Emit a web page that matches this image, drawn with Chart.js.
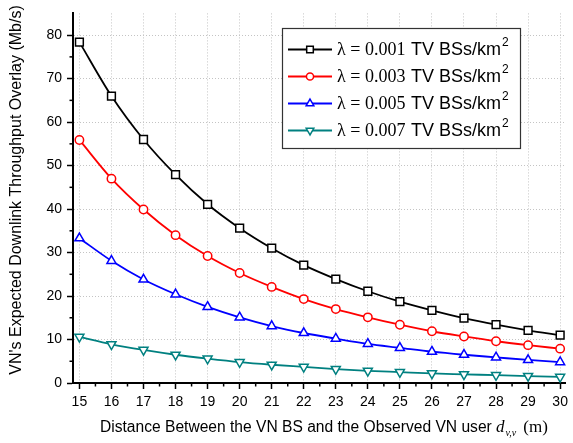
<!DOCTYPE html>
<html><head><meta charset="utf-8">
<script src="https://cdn.jsdelivr.net/npm/chart.js@4.4.1/dist/chart.umd.min.js"></script>
<style>html,body{margin:0;padding:0;background:#fff}#wrap{position:relative;width:573px;height:443px}</style>
</head><body><div id="wrap"><canvas id="c" width="573" height="443"></canvas></div>
<script>
// ---- data ----
const distances = [15,16,17,18,19,20,21,22,23,24,25,26,27,28,29,30];
const lambdaLabels = ['0.001','0.003','0.005','0.007'];
const series001 = [78.4,66.0,56.0,47.9,41.1,35.6,31.0,27.1,23.9,21.1,18.7,16.7,14.9,13.4,12.1,11.0];
const series003 = [55.9,47.0,39.9,34.0,29.2,25.3,22.1,19.3,17.0,15.1,13.4,11.9,10.7,9.6,8.7,7.9];
const series005 = [33.3,28.1,23.8,20.4,17.5,15.1,13.1,11.5,10.2,9.0,8.1,7.2,6.5,5.9,5.3,4.8];
const series007 = [10.6,8.9,7.6,6.5,5.6,4.8,4.2,3.7,3.2,2.8,2.5,2.2,2.0,1.8,1.6,1.4];
const xTicks = [15,16,17,18,19,20,21,22,23,24,25,26,27,28,29,30];
const yTicks = [0,10,20,30,40,50,60,70,80];
const yTitle = "VN's Expected Downlink Throughput Overlay (Mb/s)";
const xTitle = "Distance Between the VN BS and the Observed VN user";
const legendUnit = "TV BSs/km";

const allSeries = [series001, series003, series005, series007];
const colors = ['#000000','#ff0000','#0000ff','#008080'];
const styles = [
  {pointStyle:'rect', radius:5.5, rotation:0},
  {pointStyle:'circle', radius:4.2, rotation:0},
  {pointStyle:'triangle', radius:5.2, rotation:0},
  {pointStyle:'triangle', radius:5.2, rotation:180}
];

const datasets = allSeries.map((s,i)=>({
  label: lambdaLabels[i],
  data: distances.map((d,j)=>({x:d, y:s[j]})),
  borderColor: colors[i],
  backgroundColor: '#ffffff',
  pointBackgroundColor: '#ffffff',
  pointBorderColor: colors[i],
  pointBorderWidth: 1.5,
  borderWidth: 1.8,
  pointStyle: styles[i].pointStyle,
  pointRadius: styles[i].radius,
  pointRotation: styles[i].rotation,
  cubicInterpolationMode: 'monotone',
  clip: false
}));

const SANS = "'Liberation Sans', Arial, sans-serif";
const SERIF = "'Liberation Serif', 'Times New Roman', serif";

const extras = {
  id: 'extras',
  afterDraw(chart) {
    const ctx = chart.ctx;
    const xs = chart.scales.x, ys = chart.scales.y;
    const ca = chart.chartArea;
    ctx.save();
    // minor ticks
    ctx.strokeStyle = '#000'; ctx.lineWidth = 1.5;
    for (let i = 0; i < xTicks.length - 1; i++) {
      const px = xs.getPixelForValue((xTicks[i] + xTicks[i+1]) / 2);
      ctx.beginPath(); ctx.moveTo(px, ca.bottom); ctx.lineTo(px, ca.bottom + 3.5); ctx.stroke();
    }
    for (let i = 0; i < yTicks.length - 1; i++) {
      const py = ys.getPixelForValue((yTicks[i] + yTicks[i+1]) / 2);
      ctx.beginPath(); ctx.moveTo(ca.left, py); ctx.lineTo(ca.left - 3.5, py); ctx.stroke();
    }
    // y title
    ctx.fillStyle = '#000';
    ctx.font = '16px ' + SANS;
    ctx.textAlign = 'center'; ctx.textBaseline = 'middle';
    ctx.save();
    ctx.translate(17, 190);
    ctx.rotate(-Math.PI/2);
    ctx.fillText(yTitle, 0, 0);
    ctx.restore();
    // x title
    ctx.textAlign = 'left'; ctx.textBaseline = 'alphabetic';
    let tx = 100, ty = 432;
    ctx.font = '15.6px ' + SANS;
    ctx.fillText(xTitle, tx, ty);
    tx += ctx.measureText(xTitle + ' ').width;
    ctx.font = 'italic 17px ' + SERIF;
    ctx.fillText('d', tx, ty);
    tx += ctx.measureText('d').width + 1;
    ctx.font = 'italic 10px ' + SERIF;
    ctx.fillText('v,v', tx, ty + 4);
    tx += ctx.measureText('v,v').width + 7;
    ctx.font = '17px ' + SERIF;
    ctx.fillText('(m)', tx, ty);
    // legend
    const bx = 282, by = 28, bw = 238, bh = 120;
    ctx.fillStyle = '#fff';
    ctx.fillRect(bx, by, bw, bh);
    ctx.strokeStyle = '#333'; ctx.lineWidth = 1.2;
    ctx.strokeRect(bx + 0.5, by + 0.5, bw, bh);
    const rowY = [49.5, 76.5, 103.5, 130.5];
    chart.data.datasets.forEach((ds, i) => {
      const y = rowY[i];
      ctx.strokeStyle = ds.borderColor; ctx.lineWidth = 1.8;
      ctx.beginPath(); ctx.moveTo(288, y); ctx.lineTo(332, y); ctx.stroke();
      ctx.fillStyle = '#fff';
      ctx.strokeStyle = ds.borderColor; ctx.lineWidth = 1.5;
      Chart.helpers.drawPoint(ctx, {pointStyle: ds.pointStyle, rotation: ds.pointRotation, borderWidth: 1.5, radius: ds.pointRadius * 0.85}, 310, y);
      ctx.fillStyle = '#000';
      ctx.textBaseline = 'middle'; ctx.textAlign = 'left';
      ctx.font = '18px ' + SERIF;
      ctx.fillText('\u03bb = ' + ds.label, 337, y + 1);
      ctx.font = '18px ' + SANS;
      ctx.fillText(legendUnit, 411, y + 1);
      const w = ctx.measureText(legendUnit).width;
      ctx.font = '12px ' + SANS;
      ctx.fillText('2', 411 + w + 1, y - 7);
    });
    ctx.restore();
  }
};

new Chart(document.getElementById('c'), {
  type: 'line',
  data: { datasets },
  plugins: [extras],
  options: {
    responsive: false,
    devicePixelRatio: 1,
    animation: false,
    layout: { padding: { top: 12, right: 3, left: 0, bottom: 0 } },
    plugins: { legend: { display: false }, tooltip: { enabled: false } },
    scales: {
      x: {
        type: 'linear', min: 14.8, max: 30.17,
        afterBuildTicks: s => { s.ticks = xTicks.map(v => ({value: v})); },
        afterFit: s => { s.height = 60; },
        ticks: { color: '#000', font: { family: SANS, size: 14 }, padding: 5, autoSkip: false, maxRotation: 0 },
        grid: { color: '#c4c4c4', lineWidth: 1, tickLength: 6, tickColor: '#000', tickWidth: 1.5 },
        border: { display: true, color: '#000', width: 2, dash: [1, 2] }
      },
      y: {
        type: 'linear', min: 0, max: 85,
        afterBuildTicks: s => { s.ticks = yTicks.map(v => ({value: v})); },
        afterFit: s => { s.width = 73; },
        ticks: { color: '#000', font: { family: SANS, size: 14 }, padding: 5 },
        grid: { color: '#c4c4c4', lineWidth: 1, tickLength: 6, tickColor: '#000', tickWidth: 1.5 },
        border: { display: true, color: '#000', width: 2, dash: [1, 2] }
      }
    }
  }
});
</script></body></html>
